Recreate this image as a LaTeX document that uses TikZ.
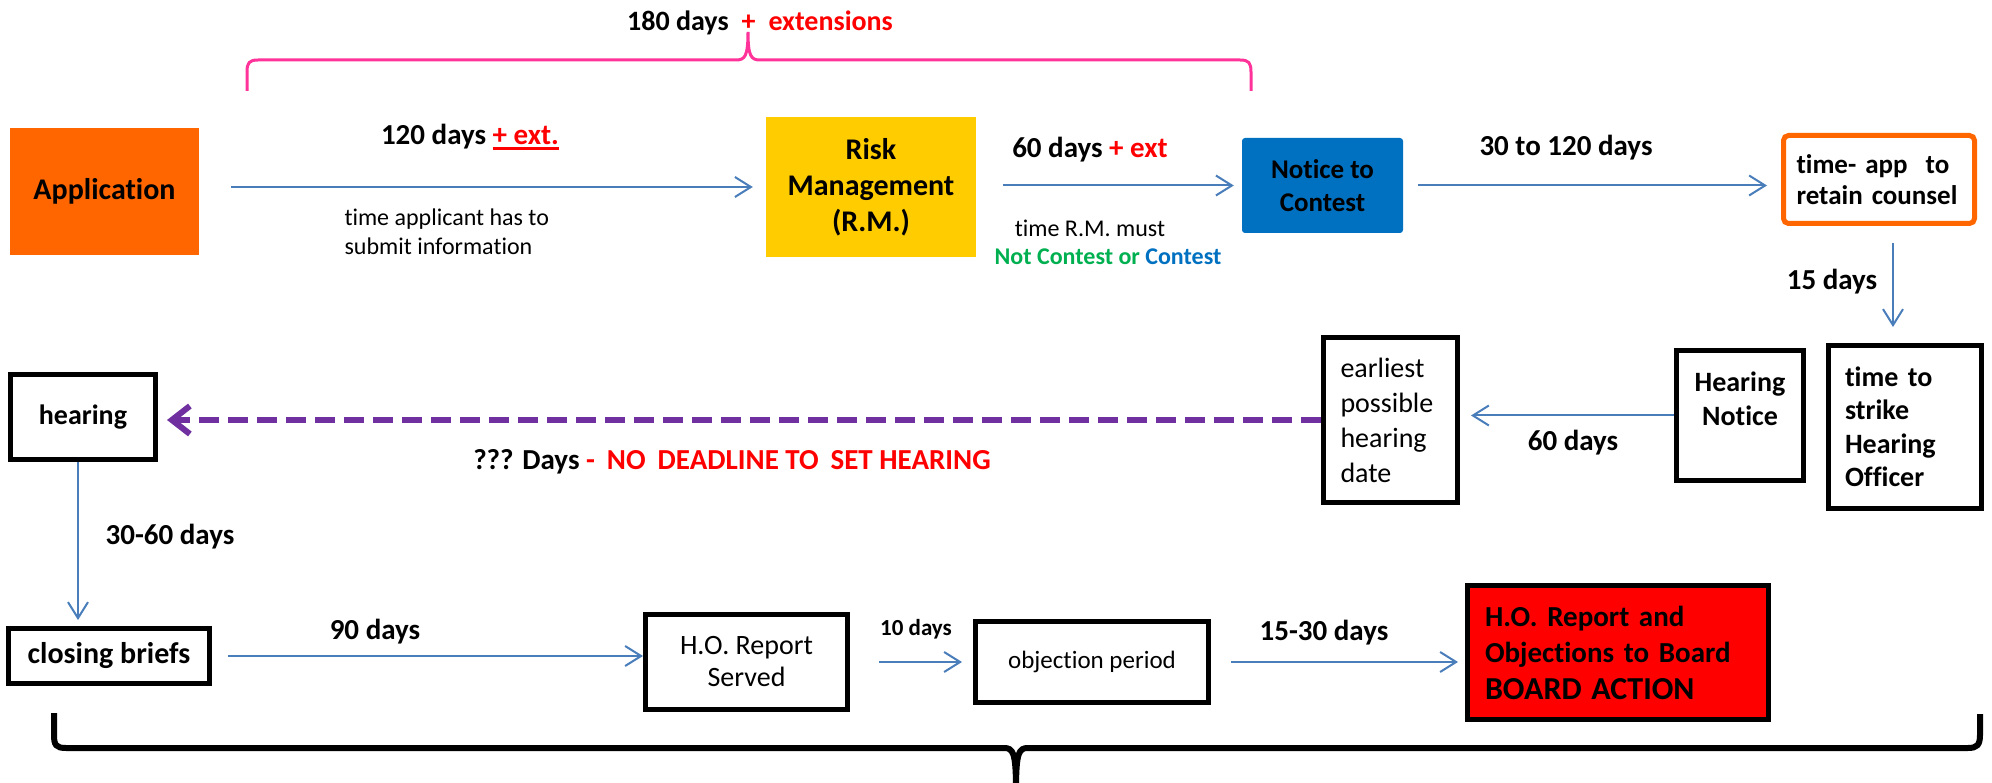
\documentclass[tikz,border=0pt]{standalone}
\usepackage{fontspec}
\setmainfont{Carlito}[Ligatures=NoCommon]
\usepackage{xcolor}
\usetikzlibrary{arrows.meta,positioning}

\definecolor{apporange}{HTML}{FF6600}
\definecolor{rmgold}{HTML}{FFCC00}
\definecolor{ntcblue}{HTML}{0070C0}
\definecolor{flowblue}{HTML}{4A7EBB}
\definecolor{waitpurple}{HTML}{7030A0}
\definecolor{bracepink}{HTML}{FF3399}
\definecolor{txtred}{HTML}{FF0000}
\definecolor{txtgreen}{HTML}{00B050}

\newlength{\ulwd}
\newcommand{\thickul}[1]{\settowidth{\ulwd}{#1}\rlap{\rule[-5pt]{\ulwd}{3pt}}#1}

\begin{document}
\begin{tikzpicture}[x=1pt, y=-1pt,
    box/.style={rectangle, draw=black, line width=5pt, inner sep=0pt, align=center},
    colbox/.style={rectangle, inner sep=0pt, align=center},
    lbl/.style={font=\fontsize{29}{35}\selectfont\bfseries},
    note/.style={font=\fontsize{24}{29}\selectfont, align=left},
    flow/.style={draw=flowblue, line width=2pt, -{Straight Barb[length=16pt, width=20pt]}},
    wait/.style={draw=waitpurple, line width=6pt, dash pattern=on 20pt off 9pt, -{Straight Barb[length=18pt, width=28pt]}}
]
\useasboundingbox (0,0) rectangle (1992,783);

% Top row
\node[colbox, fill=apporange, minimum width=189pt, minimum height=127pt, font=\fontsize{30}{36}\selectfont\bfseries] (app) at (104.5,191.5) {Application};
\node[colbox, fill=rmgold, minimum width=210pt, minimum height=140pt, font=\fontsize{30}{36}\selectfont\bfseries] (rm) at (871,187) {Risk\\Management\\(R.M.)};
\node[colbox, fill=ntcblue, rounded corners=3pt, minimum width=161pt, minimum height=95pt, font=\fontsize{27}{33}\selectfont\bfseries] (ntc) at (1322.5,185.5) {Notice to\\Contest};
\node[box, draw=apporange, rounded corners=5pt, minimum width=191pt, minimum height=88pt, text width=165pt, align=left, font=\fontsize{27}{31}\selectfont\bfseries] (tapp) at (1879,179.5) {time- app\ \ to\\retain counsel};

% Middle row
\node[box, minimum width=153pt, minimum height=163pt, text width=120pt, align=left, font=\fontsize{28}{33.5}\selectfont\bfseries] (strike) at (1905,427) {time to\\strike\\Hearing\\Officer};
\node[box, minimum width=127pt, minimum height=130pt, font=\fontsize{28}{34}\selectfont\bfseries] (hn) at (1740,415.5) {Hearing\\Notice\\\mbox{}};
\node[box, minimum width=134pt, minimum height=165pt, text width=100pt, align=left, font=\fontsize{28}{35}\selectfont] (early) at (1390.5,420) {earliest\\possible\\hearing\\date};
\node[box, minimum width=145pt, minimum height=85pt, font=\fontsize{28}{34}\selectfont\bfseries] (hear) at (83,417) {hearing};

% Bottom row
\node[box, minimum width=201pt, minimum height=55pt, font=\fontsize{30}{36}\selectfont\bfseries] (cb) at (109,656) {closing briefs};
\node[box, minimum width=202pt, minimum height=95pt, font=\fontsize{28}{32}\selectfont] (ho) at (746.5,662) {H.O. Report\\Served};
\node[box, minimum width=233pt, minimum height=81pt, font=\fontsize{25}{30}\selectfont] (obj) at (1092,662) {objection period};
\node[box, fill=txtred, minimum width=301pt, minimum height=134pt, text width=266pt, align=left, font=\fontsize{29}{36.5}\selectfont\bfseries] (board) at (1618,652.5) {H.O. Report and\\Objections to Board\\{\fontsize{32}{36.5}\selectfont BOARD ACTION}};

% Connectors
\coordinate (tappdown) at ([xshift=14pt]tapp.south);
\coordinate (heardown) at ([xshift=-5pt]hear.south);
\draw[flow, shorten <=32pt, shorten >=13pt] (app.east |- rm.west) -- (rm.west);
\draw[flow, shorten <=27pt, shorten >=8pt] (rm.east |- ntc.west) -- (ntc.west);
\draw[flow, shorten <=15pt, shorten >=14pt] (ntc.east) -- (ntc.east -| tapp.west);
\draw[flow, shorten <=17pt, shorten >=16pt] (tappdown) -- (tappdown |- strike.north);
\draw[flow, shorten >=11pt] (hn.west) -- (hn.west -| early.east);
\draw[wait, shorten >=9pt] (early.west) -- (early.west -| hear.east);
\draw[flow, shorten >=6pt] (heardown) -- (heardown |- cb.north);
\draw[flow, shorten <=16pt] (cb.east) -- (cb.east -| ho.west);
\draw[flow, shorten <=29pt, shorten >=11pt] (ho.east) -- (ho.east -| obj.west);
\draw[flow, shorten <=20pt, shorten >=7pt] (obj.east) -- (obj.east -| board.west);

% Labels
\node[lbl, font=\fontsize{28}{34}\selectfont\bfseries] (span) at (760,23) {180 days\hspace{13pt}\textcolor{txtred}{+\hspace{13pt}extensions}};
\node[lbl] (l120) at (470,137) {120 days \textcolor{txtred}{\thickul{+ ext.}}};
\node[note, anchor=west] (lsubmit) at (341,232) {time applicant has to\\submit information};
\node[lbl] (l60) at (1090,150) {60 days \textcolor{txtred}{+ ext}};
\node[note] (lmust) at (1090,228) {time R.M. must};
\node[note, font=\fontsize{24}{29}\selectfont\bfseries] (lcontest) at (1108,257) {\textcolor{txtgreen}{Not Contest or} \textcolor{ntcblue}{Contest}};
\node[lbl] (l30) at (1566,148) {30 to 120 days};
\node[lbl] (l15) at (1832,282) {15 days};
\node[lbl] (l60b) at (1573,443) {60 days};
\node[lbl] (lnone) at (732,462) {??? Days \textcolor{txtred}{-\hspace{12pt}NO\hspace{12pt}DEADLINE TO\hspace{12pt}SET HEARING}};
\node[lbl] (l3060) at (170,537) {30-60 days};
\node[lbl] (l90) at (375,632) {90 days};
\node[lbl, font=\fontsize{23}{28}\selectfont\bfseries] (l10) at (916,629) {10 days};
\node[lbl] (l1530) at (1324,633) {15-30 days};

% Braces
\draw[bracepink, line width=3pt] (247,91) -- (247,72) .. controls (247,63) and (249,60) .. (258,60) -- (736,60) .. controls (745,60) and (748,56) .. (748,32) .. controls (748,56) and (751,60) .. (760,60) -- (1240,60) .. controls (1249,60) and (1251,63) .. (1251,72) -- (1251,91);
\draw[black, line width=6pt] (54,713) -- (54,735) .. controls (54,745) and (56,748) .. (66,748) -- (1004,748) .. controls (1013,748) and (1016,752) .. (1016,790) .. controls (1016,752) and (1019,748) .. (1028,748) -- (1968,748) .. controls (1977,748) and (1980,745) .. (1980,735) -- (1980,714);

\end{tikzpicture}
\end{document}
